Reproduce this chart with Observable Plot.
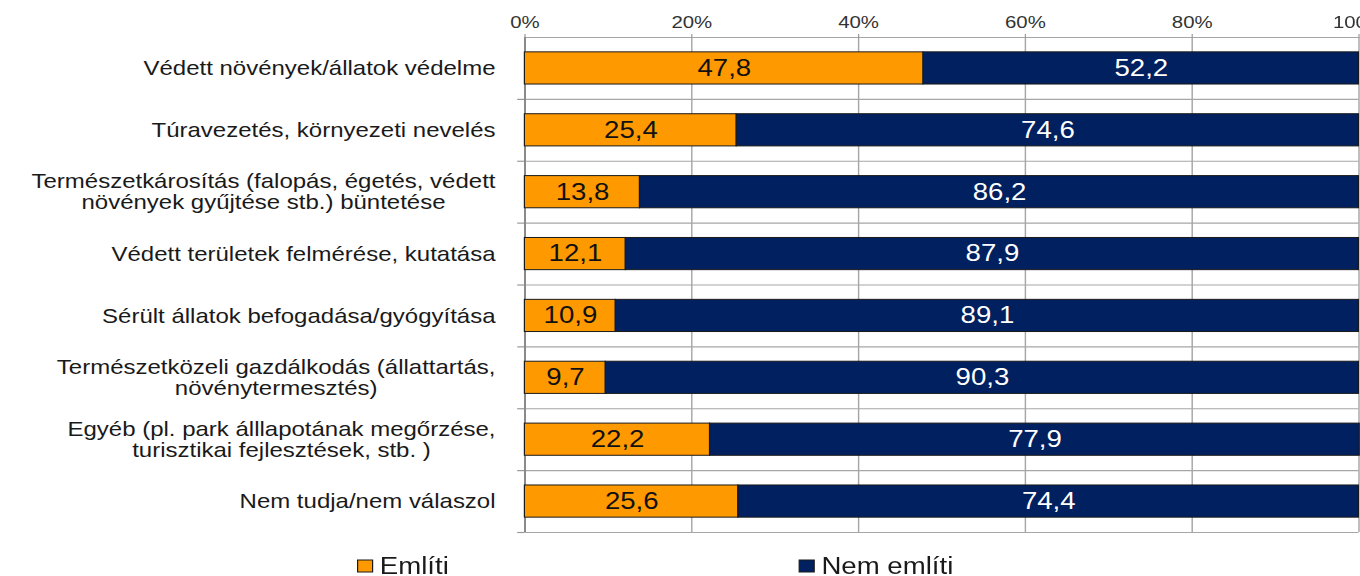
<!DOCTYPE html>
<html><head><meta charset="utf-8">
<script src="https://cdn.jsdelivr.net/npm/d3@7"></script>
<script src="https://cdn.jsdelivr.net/npm/@observablehq/plot@0.6"></script>
<style>
html,body{margin:0;padding:0;background:#fff;overflow:hidden;}
#wrap{width:1133px;transform:scaleX(1.2);transform-origin:0 0;font-family:"Liberation Sans",Arial,sans-serif;}
#wrap svg{display:block;}
.lg-swatches{margin:6px 0 0 0 !important;padding-left:298px !important;min-height:0 !important;height:30px;display:flex !important;align-items:center !important;font-size:23px !important;font-family:"Liberation Sans",Arial,sans-serif !important;color:#1a1a1a;}
.lg-swatch{width:368px !important;margin:0 !important;}
.lg-swatch > svg{margin-right:6px !important;overflow:visible;}
.lg-swatch > svg rect{stroke:#1a1a1a;stroke-width:1;}
</style></head><body><div id="wrap"></div><script>
const categories = [
  "Védett növények/állatok védelme",
  "Túravezetés, környezeti nevelés",
  "Természetkárosítás (falopás, égetés, védett\nnövények gyűjtése stb.) büntetése",
  "Védett területek felmérése, kutatása",
  "Sérült állatok befogadása/gyógyítása",
  "Természetközeli gazdálkodás (állattartás,\nnövénytermesztés)",
  "Egyéb (pl. park álllapotának megőrzése,\nturisztikai fejlesztések, stb. )",
  "Nem tudja/nem válaszol"
];
const emliti    = [47.8, 25.4, 13.8, 12.1, 10.9, 9.7, 22.2, 25.6];
const nemEmliti = [52.2, 74.6, 86.2, 87.9, 89.1, 90.3, 77.9, 74.4];
const seriesNames  = ["Említi", "Nem említi"];
const seriesColors = ["#FF9900", "#002060"];
const xTicks = [0, 20, 40, 60, 80, 100];

const n = categories.length;
const rows = [];
categories.forEach((c, i) => {
  let acc = 0;
  [emliti[i], nemEmliti[i]].forEach((v, k) => {
    rows.push({cat: c, i, series: seriesNames[k], value: v, x1: acc, x2: acc + v});
    acc += v;
  });
});
const fmt = v => v.toFixed(1).replace(".", ",");

const labelFont = 20, labelGap = 24.5;
const ctx = document.createElement("canvas").getContext("2d");
ctx.font = `${labelFont}px "Liberation Sans", Arial, sans-serif`;
const labelMarks = categories.map((c, i) => {
  const w = d3.max(c.split("\n"), s => ctx.measureText(s).width);
  return Plot.text([c], {
    x: () => 0, y: () => i + 0.5, text: d => d,
    textAnchor: "middle", dx: -(labelGap + w / 2),
    fontSize: labelFont, lineHeight: 1.05, fill: "#1a1a1a"
  });
});

const chart = Plot.plot({
  width: 1133, height: 545,
  marginTop: 37, marginBottom: 13, marginLeft: 437, marginRight: 1,
  x: {domain: [0, 100], axis: null},
  y: {domain: [0, n], reverse: true, axis: null},
  color: {domain: seriesNames, range: seriesColors},
  style: {fontFamily: '"Liberation Sans", Arial, sans-serif', fontSize: "17px", background: "#fff", color: "#333", overflow: "visible"},
  marks: [
    Plot.gridX(xTicks, {stroke: "#a6a6a6", strokeOpacity: 1, strokeWidth: 1.2}),
    Plot.gridY(d3.range(n + 1), {stroke: "#a6a6a6", strokeOpacity: 1, strokeWidth: 1.2}),
    Plot.axisX(xTicks, {anchor: "top", tickSize: 4, tickPadding: 6, tickFormat: d => d + "%", fontSize: 17, stroke: "#999", fill: "#333"}),
    Plot.axisY(d3.range(1, n + 1), {anchor: "left", tickSize: 6, tickFormat: () => "", stroke: "#999", strokeWidth: 1.2}),
    Plot.ruleX([0], {stroke: "#888", strokeWidth: 1.6}),
    Plot.rectX(rows, {x1: "x1", x2: "x2", y1: d => d.i + 0.24, y2: d => d.i + 0.76, fill: "series", stroke: "#1a1a1a", strokeWidth: 1}),
    Plot.text(rows.filter(d => d.series === seriesNames[0]), {x: d => (d.x1 + d.x2) / 2, y: d => d.i + 0.5, text: d => fmt(d.value), fill: "#111", fontSize: 23}),
    Plot.text(rows.filter(d => d.series === seriesNames[1]), {x: d => (d.x1 + d.x2) / 2, y: d => d.i + 0.5, text: d => fmt(d.value), fill: "#fff", fontSize: 23}),
    ...labelMarks
  ]
});

const legend = Plot.legend({
  color: {domain: seriesNames, range: seriesColors},
  swatchWidth: 12.5, swatchHeight: 12, className: "lg"
});

const wrap = document.getElementById("wrap");
wrap.appendChild(chart);
wrap.appendChild(legend);
</script></body></html>
